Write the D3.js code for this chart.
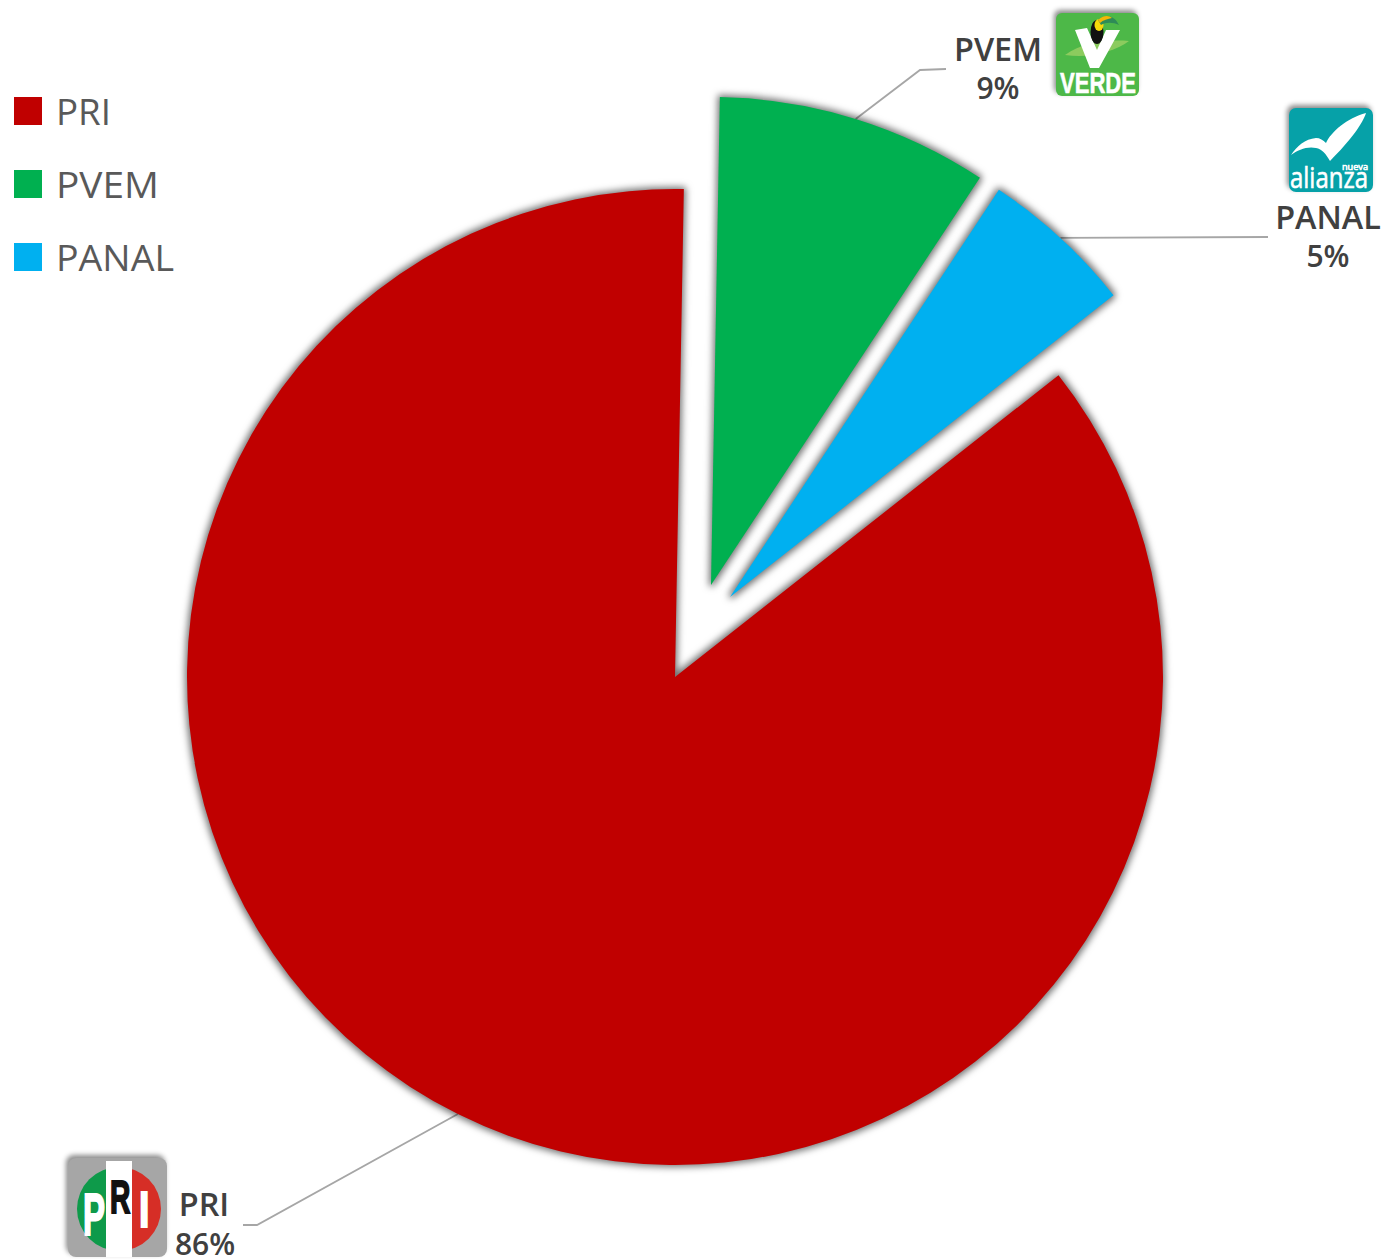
<!DOCTYPE html>
<html><head><meta charset="utf-8">
<script src="https://cdn.jsdelivr.net/npm/d3@7"></script>
<style>html,body{margin:0;padding:0;background:#fff}svg{display:block}</style>
</head><body><svg id="c" width="1384" height="1259"></svg>
<script>
const parties = ["PRI", "PVEM", "PANAL"];
const shares = [85.9, 9.0, 5.1];
const shareLabels = ["86%", "9%", "5%"];
const colors = ["#C00000", "#00B050", "#00B0F0"];

const W = 1384, H = 1259, R = 488, CX = 675, CY = 677;
const deg = Math.PI / 180;
const svg = d3.select("#c");
const defs = svg.append("defs");

const sf = defs.append("filter").attr("id", "sliceShadow")
  .attr("color-interpolation-filters", "sRGB")
  .attr("x", "-10%").attr("y", "-10%").attr("width", "120%").attr("height", "120%");
sf.append("feMorphology").attr("in", "SourceAlpha").attr("operator", "dilate").attr("radius", 2).attr("result", "d");
sf.append("feGaussianBlur").attr("in", "d").attr("stdDeviation", 3.6).attr("result", "b");
sf.append("feFlood").attr("flood-color", "#000").attr("flood-opacity", 0.55);
sf.append("feComposite").attr("in2", "b").attr("operator", "in").attr("result", "s");
const sm = sf.append("feMerge");
sm.append("feMergeNode").attr("in", "s");
sm.append("feMergeNode").attr("in", "SourceGraphic");

const lf = defs.append("filter").attr("id", "logoShadow")
  .attr("color-interpolation-filters", "sRGB")
  .attr("x", "-20%").attr("y", "-20%").attr("width", "140%").attr("height", "140%");
lf.append("feDropShadow").attr("dx", -2).attr("dy", -3).attr("stdDeviation", 2.4)
  .attr("flood-color", "#000").attr("flood-opacity", 0.45);

const layout = {
  PRI:   {off: [0, 0],     label: [204, 1216, 205, 1255], leader: [[257, 1225], [243, 1225]]},
  PVEM:  {off: [36, -92],  label: [998, 61, 998, 99],     leader: [[920, 70], [946, 69]]},
  PANAL: {off: [55, -80],  label: [1328, 229, 1328, 267], leader: [[1268, 237]]}
};
const legendWidth = {PRI: 55, PVEM: 103, PANAL: 118};

const pie = d3.pie().sort(null).startAngle(51.8 * deg).endAngle(411.8 * deg);
const arcs = pie(shares);
const arc = d3.arc().innerRadius(0).outerRadius(R);

// leader lines under slices
const line = d3.line();
arcs.forEach((a, i) => {
  const L = layout[parties[i]];
  const mid = (a.startAngle + a.endAngle) / 2;
  const x = CX + L.off[0] + R * Math.sin(mid), y = CY + L.off[1] - R * Math.cos(mid);
  svg.append("path").attr("d", line([[x, y], ...L.leader]))
    .attr("fill", "none").attr("stroke", "#A6A6A6").attr("stroke-width", 1.8);
});

// slices
svg.append("g").selectAll("path").data(arcs).join("path")
  .attr("transform", (d, i) => {
    const o = layout[parties[i]].off;
    return `translate(${CX + o[0]},${CY + o[1]})`;
  })
  .attr("d", arc)
  .attr("fill", (d, i) => colors[i])
  .attr("filter", "url(#sliceShadow)");

// data labels
parties.forEach((p, i) => {
  const [x1, y1, x2, y2] = layout[p].label;
  const base = s => s.attr("text-anchor", "middle")
    .attr("font-family", "'Open Sans'").attr("font-weight", 600).attr("fill", "#404040");
  svg.append("text").text(p).attr("x", x1).attr("y", y1).attr("font-size", 32.4).call(base);
  svg.append("text").text(shareLabels[i]).attr("x", x2).attr("y", y2).attr("font-size", 30).call(base);
});

// legend
const legY = d3.scalePoint().domain(parties).range([111, 257]);
const leg = svg.append("g").selectAll("g").data(parties).join("g")
  .attr("transform", d => `translate(0,${legY(d)})`);
leg.append("rect").attr("x", 14).attr("y", -14).attr("width", 28).attr("height", 28)
  .attr("fill", (d, i) => colors[i]);
leg.append("text").text(d => d).attr("x", 56).attr("y", 14)
  .attr("textLength", d => legendWidth[d]).attr("lengthAdjust", "spacingAndGlyphs")
  .attr("font-family", "'Open Sans'").attr("font-size", 36.5).attr("fill", "#595959");

// logos
const narrow = "'Liberation Sans Narrow','Liberation Sans'";
function logoText(g, t, x, y, size, len, fill, family, weight) {
  g.append("text").text(t).attr("x", x).attr("y", y).attr("font-size", size)
    .attr("textLength", len).attr("lengthAdjust", "spacingAndGlyphs")
    .attr("font-family", family).attr("font-weight", weight).attr("fill", fill)
    .attr("stroke", fill).attr("stroke-width", 0.6);
}
function scaledLetter(g, t, x, y, size, sx, fill) {
  g.append("text").text(t).attr("transform", `translate(${x},${y}) scale(${sx},1)`)
    .attr("font-size", size).attr("font-family", "'Liberation Sans'").attr("font-weight", 700)
    .attr("fill", fill).attr("stroke", fill).attr("stroke-width", 2);
}
// VERDE
{
  const g = svg.append("g").attr("transform", "translate(1056,13)");
  g.append("rect").attr("width", 83).attr("height", 83).attr("rx", 6).attr("fill", "#4DB848")
    .attr("filter", "url(#logoShadow)");
  g.append("path").attr("d", "M9,42 C25,30 50,26 73,28 C60,38 35,46 9,42Z").attr("fill", "#8CCB5E");
  g.append("path").attr("d", "M19,17 L31,15 L41,37 L50,17 L64,17 L43,55 L34,55Z").attr("fill", "#fff");
  g.append("ellipse").attr("cx", 41).attr("cy", 19).attr("rx", 6.5).attr("ry", 12).attr("fill", "#111");
  g.append("ellipse").attr("cx", 43).attr("cy", 12).attr("rx", 4.5).attr("ry", 6).attr("fill", "#F5D90A");
  g.append("path").attr("d", "M42,7 C50,1 58,2 63,12 C57,9 50,9 45,12Z").attr("fill", "#2E8B57");
  g.append("path").attr("d", "M42,7 C47,2 53,2 56,5 C52,6 47,7 44,10Z").attr("fill", "#F2B705");
  logoText(g, "VERDE", 4, 80, 29, 76, "#fff", narrow, 700);
}
// ALIANZA
{
  const g = svg.append("g").attr("transform", "translate(1289,108)");
  g.append("rect").attr("width", 84).attr("height", 84).attr("rx", 7).attr("fill", "#06A1A8")
    .attr("filter", "url(#logoShadow)");
  g.append("path").attr("d", "M2,47 C8,38 16,31 27,30 C31,30 34,32 37,35 C42,24 58,10 77,5 C74,15 62,32 41,53 C37,46 33,41 27,40 C18,38 9,42 2,47Z").attr("fill", "#fff");
  logoText(g, "alianza", 1, 80, 29, 78, "#fff", "'Open Sans'", 500);
  logoText(g, "nueva", 53, 62, 9.5, 26, "#fff", "'Open Sans'", 500);
}
// PRI
{
  const g = svg.append("g").attr("transform", "translate(68,1158)");
  g.append("rect").attr("width", 99).attr("height", 99).attr("rx", 8).attr("fill", "#A6A6A6")
    .attr("filter", "url(#logoShadow)");
  const half = d3.arc().innerRadius(0).outerRadius(42);
  g.append("path").attr("transform", "translate(51,51)")
    .attr("d", half({startAngle: Math.PI, endAngle: 2 * Math.PI})).attr("fill", "#0E9A4A");
  g.append("path").attr("transform", "translate(51,51)")
    .attr("d", half({startAngle: 0, endAngle: Math.PI})).attr("fill", "#D62E26");
  g.append("rect").attr("x", 38).attr("y", 3).attr("width", 26).attr("height", 96).attr("fill", "#fff");
  scaledLetter(g, "P", 15, 77, 60, 0.55, "#fff");
  scaledLetter(g, "R", 42, 55, 47, 0.6, "#111");
  scaledLetter(g, "I", 71, 69, 50, 0.75, "#fff");
}
</script></body></html>
